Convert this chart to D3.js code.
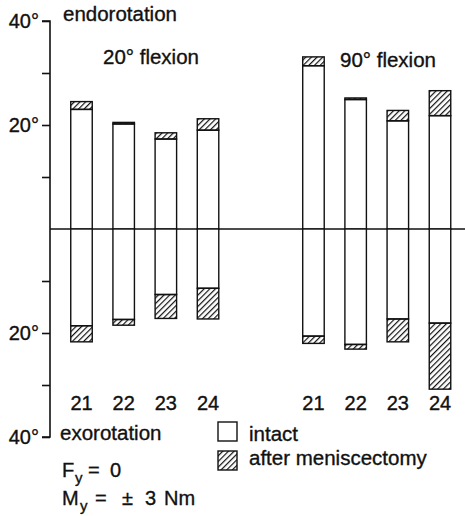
<!DOCTYPE html>
<html>
<head>
<meta charset="utf-8">
<script src="https://cdn.jsdelivr.net/npm/d3@7"></script>
<style>
  body { margin: 0; background: #fff; }
  svg { display: block; font-family: "Liberation Sans", Arial, sans-serif; }
  text { fill: #111; stroke: #111; stroke-width: 0.35px; }
</style>
</head>
<body>
<svg id="chart"></svg>
<script>
// specimens and flexion groups
const specimens = ["21", "22", "23", "24"];
const groups = ["20° flexion", "90° flexion"];

// rotation in degrees, endorotation up, exorotation down
const endoIntact20 = [23.0, 20.2, 17.3, 19.0];
const endoAfter20  = [24.5, 20.5, 18.5, 21.2];
const exoIntact20  = [18.6, 17.4, 12.6, 11.4];
const exoAfter20   = [21.7, 18.5, 17.2, 17.3];

const endoIntact90 = [31.4, 24.9, 20.8, 21.8];
const endoAfter90  = [33.1, 25.2, 22.8, 26.6];
const exoIntact90  = [20.6, 22.2, 17.3, 18.1];
const exoAfter90   = [22.0, 23.1, 21.7, 30.8];

const yTicks = [-40, -30, -20, -10, 0, 10, 20, 30, 40];
const yLabels = [-40, -20, 20, 40];

const width = 465, height = 516;
const barW = 21.5;

var svg = d3.select("#chart").attr("width", width).attr("height", height);

// hatch
svg.append("defs").append("pattern")
  .attr("id", "hatch")
  .attr("patternUnits", "userSpaceOnUse")
  .attr("width", 4).attr("height", 4)
  .attr("patternTransform", "rotate(45)")
  .append("line")
  .attr("x1", 0).attr("y1", 0).attr("x2", 0).attr("y2", 4)
  .attr("stroke", "#111").attr("stroke-width", 2.4);

var y = d3.scaleLinear().domain([-40, 40]).range([437, 21]);
// slot positions: 0..3 for 20°, 5.5..8.5 for 90°
var x = d3.scaleLinear().domain([0, 8.5]).range([81.5, 440]);

// build bar rows
var rows = [];
specimens.forEach(function(s, i) {
  rows.push({spec: s, slot: i, endoI: endoIntact20[i], endoA: endoAfter20[i], exoI: exoIntact20[i], exoA: exoAfter20[i]});
  rows.push({spec: s, slot: 5.5 + i, endoI: endoIntact90[i], endoA: endoAfter90[i], exoI: exoIntact90[i], exoA: exoAfter90[i]});
});

// axis
var axis = d3.axisLeft(y)
  .tickValues(yTicks.filter(d => d != 0))
  .tickSize(8)
  .tickPadding(3)
  .tickFormat(d => yLabels.indexOf(d) >= 0 ? Math.abs(d) + "°" : "");

var ax = svg.append("g").attr("transform", "translate(50,0)").call(axis);
ax.select(".domain").attr("stroke", "#111").attr("stroke-width", 1.6).attr("d", "M-8," + y(40) + "H0V" + y(-40) + "H-8");
ax.selectAll(".tick line").attr("stroke", "#111").attr("stroke-width", 1.6);
ax.selectAll(".tick text").attr("font-size", 20).attr("fill", "#111")
  .attr("font-family", "Liberation Sans, Arial, sans-serif");

// zero line
svg.append("line")
  .attr("x1", 50).attr("x2", width)
  .attr("y1", y(0)).attr("y2", y(0))
  .attr("stroke", "#111").attr("stroke-width", 1.6);

var bars = svg.append("g");

// intact parts
bars.selectAll(".endoI").data(rows).enter().append("rect")
  .attr("x", d => x(d.slot) - barW / 2)
  .attr("y", d => y(d.endoI))
  .attr("width", barW)
  .attr("height", d => y(0) - y(d.endoI))
  .attr("fill", "#fff").attr("stroke", "#111").attr("stroke-width", 1.4);

bars.selectAll(".exoI").data(rows).enter().append("rect")
  .attr("x", d => x(d.slot) - barW / 2)
  .attr("y", y(0))
  .attr("width", barW)
  .attr("height", d => y(-d.exoI) - y(0))
  .attr("fill", "#fff").attr("stroke", "#111").attr("stroke-width", 1.4);

// after meniscectomy extra
bars.selectAll(".endoA").data(rows).enter().append("rect")
  .attr("x", d => x(d.slot) - barW / 2)
  .attr("y", d => y(d.endoA))
  .attr("width", barW)
  .attr("height", d => y(d.endoI) - y(d.endoA))
  .attr("fill", "url(#hatch)").attr("stroke", "#111").attr("stroke-width", 1.4);

bars.selectAll(".exoA").data(rows).enter().append("rect")
  .attr("x", d => x(d.slot) - barW / 2)
  .attr("y", d => y(-d.exoI))
  .attr("width", barW)
  .attr("height", d => y(-d.exoA) - y(-d.exoI))
  .attr("fill", "url(#hatch)").attr("stroke", "#111").attr("stroke-width", 1.4);

// specimen numbers
svg.selectAll(".num").data(rows).enter().append("text")
  .attr("x", d => x(d.slot))
  .attr("y", 410)
  .attr("text-anchor", "middle")
  .attr("font-size", 20)
  .text(d => d.spec);

// titles
svg.append("text").attr("x", 63).attr("y", 21).attr("font-size", 20.5).text("endorotation");
svg.append("text").attr("x", 60).attr("y", 440).attr("font-size", 20.5).text("exorotation");
svg.append("text").attr("x", 103).attr("y", 64).attr("font-size", 20.5).text(groups[0]);
svg.append("text").attr("x", 340).attr("y", 67).attr("font-size", 20.5).text(groups[1]);

// legend
var leg = svg.append("g");
leg.append("rect").attr("x", 218).attr("y", 422).attr("width", 19).attr("height", 19)
  .attr("fill", "#fff").attr("stroke", "#111").attr("stroke-width", 1.4);
leg.append("rect").attr("x", 218).attr("y", 451).attr("width", 19).attr("height", 19)
  .attr("fill", "url(#hatch)").attr("stroke", "#111").attr("stroke-width", 1.4);
leg.append("text").attr("x", 249).attr("y", 441).attr("font-size", 20.5).text("intact");
leg.append("text").attr("x", 249).attr("y", 465).attr("font-size", 20.5).text("after meniscectomy");

// load conditions
var f = svg.append("text").attr("y", 477).attr("font-size", 20);
f.append("tspan").attr("x", 62).text("F");
f.append("tspan").attr("x", 75).attr("dy", 6).attr("font-size", 15).text("y");
f.append("tspan").attr("x", 88).attr("dy", -6).text("=");
f.append("tspan").attr("x", 110).text("0");
var m = svg.append("text").attr("y", 505).attr("font-size", 20);
m.append("tspan").attr("x", 62).text("M");
m.append("tspan").attr("x", 80).attr("dy", 6).attr("font-size", 15).text("y");
m.append("tspan").attr("x", 95).attr("dy", -6).text("=");
m.append("tspan").attr("x", 122).text("±");
m.append("tspan").attr("x", 145).text("3");
m.append("tspan").attr("x", 164).text("Nm");
</script>
</body>
</html>
